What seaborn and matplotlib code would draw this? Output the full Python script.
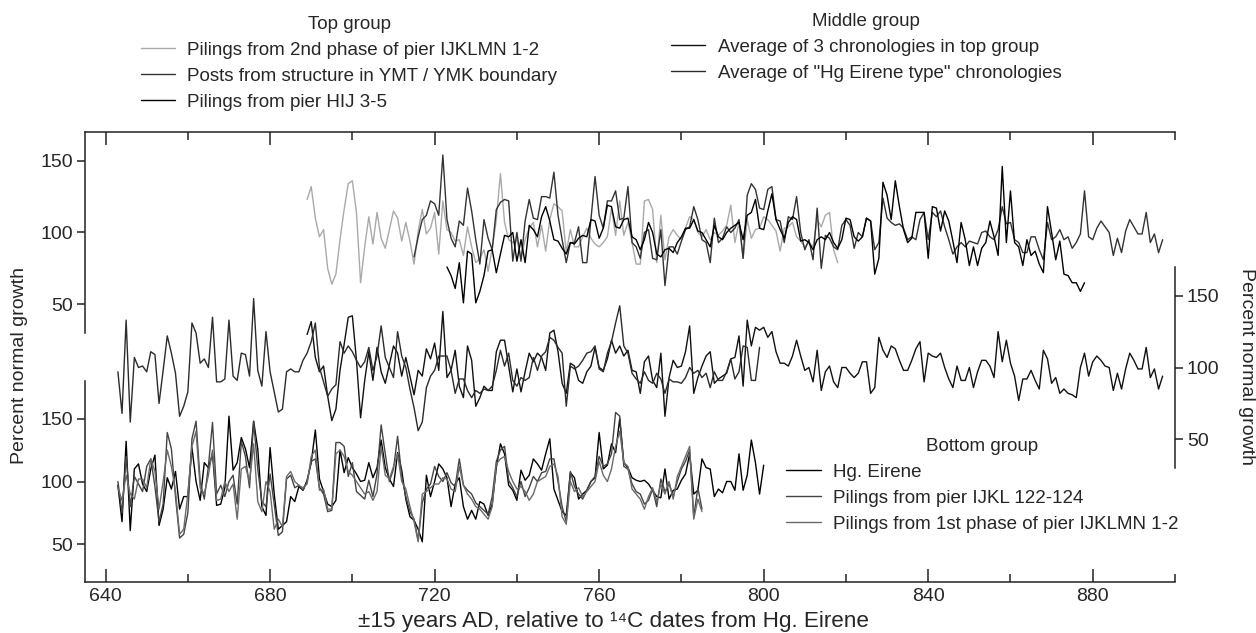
import numpy as np
import pandas as pd
import matplotlib
matplotlib.use("Agg")
import matplotlib.pyplot as plt
import seaborn as sns

# ---- data (percent normal growth, one value per year) ----
# top group
t1_start = 689  # Pilings from 2nd phase of pier IJKLMN 1-2
t1 = [123, 132, 110, 97, 102, 75, 64, 71, 95, 116, 134, 136, 114, 65, 90, 111, 92, 114, 96, 89,
      102, 115, 110, 94, 107, 94, 78, 101, 116, 99, 103, 114, 85, 122, 102, 100, 94, 95, 84, 104,
      90, 79, 82, 88, 73, 89, 109, 141, 107, 95, 93, 95, 82, 95, 103, 107, 90, 105, 87, 109,
      120, 118, 115, 86, 102, 90, 90,
      97, 103, 96, 92, 90, 93, 97, 117, 98, 122, 98, 107, 93, 78, 78, 122, 123, 116, 79, 112,
      81, 97, 102, 98, 95, 103, 111, 109, 100, 97, 102, 95, 100, 98, 101, 105, 119, 93, 107, 82,
      109, 96, 102, 103, 111, 109, 105, 101, 87, 103, 104, 107, 97, 94, 90, 93, 90, 109, 104, 112,
      114, 88, 79]
t2_start = 715  # Posts from structure in YMT / YMK boundary
t2 = [83, 97, 109, 112, 122, 120, 112, 154, 109, 96, 90, 108, 105, 131, 115, 95,
      78, 109, 96, 88, 116, 121, 123, 122, 80, 100, 80, 108, 123, 110, 109, 125, 125, 124, 142, 112,
      95, 79, 93, 93, 104,
      79, 79, 109, 139, 112, 103, 122, 122, 129, 109, 110, 132, 93, 90, 82, 100, 102, 82, 81, 102,
      63, 90, 90, 85, 94, 102, 104, 118, 109, 95, 93, 79, 110, 93, 96, 104, 100, 103, 109, 82,
      126, 134, 130, 117, 116, 130, 132, 109, 108, 93, 111, 109, 125, 100, 88, 95, 81, 117, 75, 98,
      96, 90, 88, 105, 109, 105, 89, 100,
      97, 110, 108, 88, 93, 124, 110, 107, 105, 106, 103, 95, 97, 95, 109, 114, 95, 114, 111, 115,
      104, 95, 85, 90, 93, 90, 94, 93, 92, 100, 101, 97, 95, 102, 118, 106, 107, 95, 93, 86,
      86, 97, 97, 88, 81, 107, 95, 97, 102, 95, 97, 89, 93, 99, 129, 97, 95, 103, 108, 104,
      100, 84, 96, 86, 101, 109, 104, 99, 99, 114, 93, 99, 86, 95]
t3_start = 723  # Pilings from pier HIJ 3-5
t3 = [76, 70, 61, 79, 51, 87, 85, 51,
      59, 70, 87, 88, 72, 85, 98, 97, 100, 80, 95, 79, 105, 102, 97, 111, 118, 108, 95, 94, 89, 85,
      93, 92, 96,
      98, 97, 109, 108, 96, 103, 119, 118, 104, 103, 109, 110, 97, 95, 88, 95, 107, 100, 85, 83,
      88, 89, 86, 93, 97, 103, 103, 109, 101, 100, 95, 90, 105, 97, 95, 100, 103, 105, 107, 95,
      112, 114, 123, 103, 102, 115, 127, 109, 102, 96, 107, 111, 109, 94, 95, 93, 88, 95, 97, 95,
      100, 93, 89, 95, 110, 109, 97, 94,
      97, 110, 108, 71, 82, 135, 126, 109, 136, 118, 102, 93, 96, 114, 114, 114, 82, 118, 117, 101,
      115, 108, 94, 79, 107, 95, 77, 90, 77, 89, 93, 108, 97, 84, 146, 93, 129, 93, 90, 77,
      95, 84, 87, 78, 72, 118, 100, 81, 94, 71, 70, 65, 65, 59, 65]

# middle group
m1_start = 689  # Average of 3 chronologies in top group
m1 = [123, 132, 107, 97, 101, 80, 63, 71, 98, 116, 135, 136, 105, 65, 91, 111, 91, 114, 97, 89,
      102, 115, 110, 94, 107, 94, 81, 98, 94, 113, 106, 117,
      98, 139, 93, 98, 112, 87, 79, 115, 105, 73, 79, 87, 84, 84, 111, 119, 119, 101, 83, 99,
      83, 97, 110, 104, 110, 107, 98, 124, 126, 111, 89, 82, 103, 101, 91, 89, 97, 101, 114, 100,
      98, 106, 119, 110, 115, 108, 112, 98, 97, 82, 104, 108, 91, 86, 110, 66, 93, 105, 100, 101,
      111, 129, 82, 93, 101, 108, 111, 89, 92, 94, 96, 106, 107, 122, 87, 133, 115, 128, 126,
      128, 121, 125, 111, 103, 103, 101, 108, 119, 108, 98, 100, 90, 112, 84, 97, 101, 90, 86, 100,
      100, 96, 93, 96, 104, 104, 82, 86, 121, 112, 107, 115, 113, 105, 98, 98, 105, 113, 118, 90,
      110, 108, 107, 110, 100, 92, 86, 101, 91, 91, 100, 86, 97, 105, 105, 101, 93, 125, 104, 119,
      103, 94, 77, 92, 92, 98, 91, 85, 112, 106, 89, 93, 82, 85, 82, 81, 79, 100, 110, 94,
      104, 108, 105, 101, 100, 84, 96, 85, 99, 110, 105, 99, 99, 114, 93, 99, 85, 94]
m2_start = 643  # Average of "Hg Eirene type" chronologies
m2 = [97, 68, 133, 62, 107, 100, 101, 97, 111, 109, 75, 98, 122, 110, 96, 66, 73, 83, 131, 124,
      103, 106, 100, 135, 90, 90, 92, 133, 94, 91, 110, 109, 94, 148, 98, 87, 125, 97, 83, 69,
      71, 97, 99, 97, 97, 105, 110,
      118, 131, 100, 90, 80, 85, 88, 118, 110, 115, 111, 105, 100, 104, 114, 98, 108, 129, 107, 100,
      93, 125, 108, 100, 85, 72, 56, 62, 86, 94, 98,
      108, 108, 108, 98, 82, 92, 92, 84, 79, 84, 82, 85, 84, 87, 98, 112, 101, 110, 91, 87,
      93, 91, 93, 107, 98, 108, 111, 121, 119, 114, 110, 73, 101, 99, 101, 105, 110, 111, 115, 99,
      97, 110, 118, 131, 143, 115, 110, 96, 92, 89, 97, 91, 89, 96, 92, 82, 92, 90, 90, 89,
      93, 100, 96, 98, 93, 96, 86, 97, 91, 91, 97, 106, 92, 97, 115, 114, 91, 91, 114]

# bottom group
b1_start = 643  # Hg. Eirene
b1 = [97, 68, 132, 61, 110, 114, 98, 92, 110, 121, 65, 78, 103, 94, 108, 78, 88, 88, 127, 100,
      85, 115, 111, 122, 81, 82, 95, 152, 109, 115, 135, 126, 111, 148, 126, 80, 73, 127, 90, 62,
      65, 68, 88, 84, 96, 93, 101, 115, 141, 102, 92, 82, 80, 85, 125, 107, 119, 111, 106, 100,
      101, 115, 103, 111, 133, 111, 102, 96, 123, 109, 86, 72, 69, 62, 52, 105, 88, 100, 114, 110,
      103, 80, 98, 103, 80, 70, 77, 70, 84, 82, 73, 82, 111, 130, 122, 97, 93, 85, 109, 101,
      105, 118, 114, 109, 122, 134, 94, 85, 76, 73, 107, 103, 86, 90, 93, 100, 103, 139, 110, 113,
      130, 123, 150, 115, 111, 103, 101, 100, 101, 98, 93, 88, 87, 110, 86, 93, 94, 101, 106, 122,
      90, 93, 118, 111, 110, 88, 94, 91, 100, 100, 93, 122, 93, 105, 133, 115, 90, 113]
b2_start = 643  # Pilings from pier IJKL 122-124
b2 = [100, 75, 120, 80, 104, 98, 92, 112, 118, 96, 68, 82, 139, 126, 88, 55, 58, 75,
      134, 148, 100, 86, 112, 147, 90, 97, 88, 100, 105, 82, 132, 120, 95, 148, 110, 84, 80, 106,
      82, 57, 60, 102, 105, 95, 97, 93, 100, 116, 118, 95, 90, 76, 77, 131, 131, 128, 104, 115,
      92, 89, 86, 101, 88, 106, 145, 122, 100, 110, 136, 104, 88, 76, 70, 53, 83, 94, 98, 112,
      104, 100, 107, 99, 96, 118, 97, 93, 90, 83, 80, 77, 74, 88, 116, 125, 128, 101, 95, 88,
      100, 88, 95, 104, 100, 107, 108, 118, 118, 100, 80, 68, 108, 96, 90, 86, 93, 100, 104, 120,
      112, 114, 122, 155, 152, 112, 110, 98, 92, 90, 82, 85, 94, 80, 102, 92, 98, 88, 100, 110,
      116, 125, 72, 95, 78]
b3_start = 643  # Pilings from 1st phase of pier IJKLMN 1-2
b3 = [95, 85, 105, 90, 86, 102, 102, 95, 118, 108, 78, 100, 125, 112, 92, 58, 62, 90,
      128, 140, 95, 90, 105, 125, 85, 86, 100, 92, 98, 70, 110, 112, 100, 130, 84, 76, 100, 92,
      62, 70, 64, 104, 108, 100, 97, 95, 98, 120, 125, 93, 94, 78, 78, 122, 125, 120, 108, 105,
      100, 95, 90, 92, 85, 92, 128, 105, 102, 112, 122, 100, 94, 80, 68, 52, 90, 92, 95, 98,
      98, 103, 102, 94, 92, 112, 97, 90, 86, 80, 78, 74, 70, 80, 114, 118, 120, 108, 100, 94,
      96, 92, 85, 90, 100, 102, 104, 112, 114, 104, 72, 66, 100, 92, 95, 88, 92, 96, 100, 116,
      105, 100, 110, 128, 140, 115, 112, 94, 90, 86, 78, 88, 95, 84, 98, 90, 100, 86, 104, 112,
      120, 128, 70, 86, 76]

x_ticks = [640, 680, 720, 760, 800, 840, 880]
y_ticks = [50, 100, 150]


def series(start, values):
    return pd.DataFrame({"year": np.arange(start, start + len(values)), "growth": values})


sns.set_style("ticks")
plt.rcParams["font.family"] = ["Liberation Sans", "DejaVu Sans"]
FS = 14
LEG_FS = 13.5

W, H = 1256, 633
fig = plt.figure(figsize=(W / 100, H / 100), dpi=100)


def rect(x0, y0, x1, y1):
    return [x0 / W, 1 - y1 / H, (x1 - x0) / W, (y1 - y0) / H]


# frame with the shared year axis
frame = fig.add_axes(rect(85, 132, 1175, 582))
frame.set_xlim(635, 900)
frame.set_yticks([])
frame.set_xticks(x_ticks)
frame.xaxis.set_minor_locator(matplotlib.ticker.MultipleLocator(20))
frame.tick_params(axis="x", which="both", direction="in", top=True, bottom=True,
                  width=1.1, color="#222222", labelsize=FS, pad=4)
frame.tick_params(axis="x", which="major", length=9.5)
frame.tick_params(axis="x", which="minor", length=5.5)
for s in ["left", "right"]:
    frame.spines[s].set_visible(False)
for s in ["top", "bottom"]:
    frame.spines[s].set_linewidth(1.1)
    frame.spines[s].set_color("#222222")


def group_axes(box, ylim, side):
    ax = fig.add_axes(box)
    ax.set_xlim(635, 900)
    ax.set_ylim(*ylim)
    ax.patch.set_visible(False)
    ax.set_xticks([])
    ax.set_yticks(y_ticks)
    for s in ["top", "bottom", "left", "right"]:
        ax.spines[s].set_visible(s == side)
    ax.spines[side].set_linewidth(1.1)
    ax.spines[side].set_color("#222222")
    if side == "right":
        ax.yaxis.tick_right()
    ax.tick_params(axis="y", direction="out", length=5.5, width=1.1, color="#222222",
                   labelsize=FS, pad=3)
    return ax


top = group_axes(rect(85, 132, 1175, 333), (30, 170), "left")
mid = group_axes(rect(85, 267, 1175, 468), (30, 170), "right")
bot = group_axes(rect(85, 381, 1175, 582), (20, 180), "left")

groups = [
    (top, "Top group", [
        (t1_start, t1, "#a9a9a9", "Pilings from 2nd phase of pier IJKLMN 1-2"),
        (t2_start, t2, "#333333", "Posts from structure in YMT / YMK boundary"),
        (t3_start, t3, "#000000", "Pilings from pier HIJ 3-5"),
    ], (349, 16)),
    (mid, "Middle group", [
        (m1_start, m1, "#111111", "Average of 3 chronologies in top group"),
        (m2_start, m2, "#2b2b2b", 'Average of "Hg Eirene type" chronologies'),
    ], (866, 13)),
    (bot, "Bottom group", [
        (b1_start, b1, "#000000", "Hg. Eirene"),
        (b2_start, b2, "#444444", "Pilings from pier IJKL 122-124"),
        (b3_start, b3, "#6a6a6a", "Pilings from 1st phase of pier IJKLMN 1-2"),
    ], (982, 438)),
]

for ax, title, lines, (lx, ly) in groups:
    for start, vals, color, label in lines:
        sns.lineplot(data=series(start, vals), x="year", y="growth", ax=ax,
                     color=color, linewidth=1.0, label=label, legend=False)
    ax.set_xlabel("")
    ax.set_ylabel("")
    handles = ax.get_lines()
    ax.legend(handles, [h.get_label() for h in handles], title=title,
              loc="upper center", bbox_to_anchor=(lx / W, 1 - ly / H),
              bbox_transform=fig.transFigure, frameon=False, fontsize=LEG_FS,
              title_fontsize=LEG_FS, handlelength=1.85, handletextpad=0.65,
              labelspacing=0.47, borderpad=0, borderaxespad=0)

fig.text(20 / W, 1 - 366 / H, "Percent normal growth", rotation=90,
         ha="center", va="center", fontsize=FS)
fig.text(1246 / W, 1 - 366 / H, "Percent normal growth", rotation=270,
         ha="center", va="center", fontsize=FS)
fig.text(613 / W, 1 - 621 / H, "±15 years AD, relative to ¹⁴C dates from Hg. Eirene",
         ha="center", va="center", fontsize=16.2)

fig.savefig("out.png", dpi=100)
